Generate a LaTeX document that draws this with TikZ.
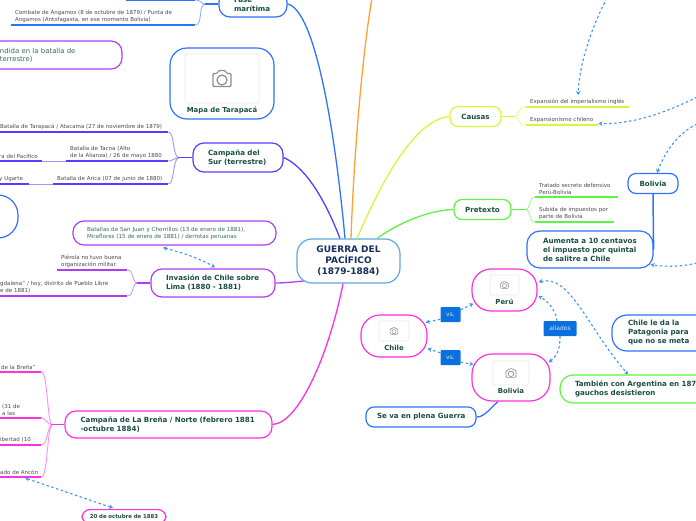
\documentclass[tikz,border=0pt]{standalone}
\usepackage{fontspec}
\setmainfont{DejaVu Sans}
\usepackage{tikz}
\usetikzlibrary{positioning}
\usetikzlibrary{arrows.meta,bending}

\definecolor{rootblue}{HTML}{5BA8DC}
\definecolor{rootink}{HTML}{14305C}
\definecolor{topicink}{HTML}{1A4F40}
\definecolor{leafink}{HTML}{4A4A4A}
\definecolor{orangeline}{HTML}{FFA030}
\definecolor{blueline}{HTML}{2F72FF}
\definecolor{indigoline}{HTML}{5A3CFF}
\definecolor{purpleline}{HTML}{B03CF5}
\definecolor{pinkline}{HTML}{FF30E0}
\definecolor{yellowline}{HTML}{D8F53C}
\definecolor{greenline}{HTML}{5CF53C}
\definecolor{linkblue}{HTML}{3D96F0}
\definecolor{tagblue}{HTML}{0A70E0}

\tikzset{
    topic/.style={rectangle, rounded corners=11pt, line width=1.2pt, fill=white, align=left,
        text=topicink, inner xsep=0pt, inner ysep=0pt, font=\fontsize{7.1}{9}\selectfont\bfseries},
    leaf/.style={rectangle, anchor=south west, align=left, inner xsep=4pt, inner ysep=2.5pt,
        text=leafink, font=\fontsize{5.5}{7}\selectfont},
    photo/.style={rectangle, rounded corners=2pt, draw=black!8, line width=0.8pt, fill=white},
    caption/.style={inner sep=0pt, text=topicink, font=\fontsize{6.9}{8}\selectfont\bfseries},
    tag/.style={rectangle, rounded corners=1pt, fill=tagblue, text=white!85!tagblue, inner sep=0pt,
        font=\fontsize{6}{7}\selectfont},
    branch/.style={line width=1.3pt},
    twig/.style={line width=0.9pt, opacity=0.55},
    under/.style={line width=1.6pt},
    linkline/.style={draw=linkblue, line width=1.1pt, dash pattern=on 2.5pt off 2.5pt},
    linkhead/.style={linkline, -{Stealth[length=4pt,width=4.5pt]}},
    linkboth/.style={linkline, {Stealth[length=4pt,width=4.5pt]}-{Stealth[length=4pt,width=4.5pt]}},
}

\newcommand{\camicon}[2]{%
    \begin{scope}[shift={(#1)},scale=#2]
        \draw[black!45, line width=#2*1.2pt, rounded corners=1pt, fill=white]
            (-9,-5) -- (-5,-5) -- (-3,-8) -- (3,-8) -- (5,-5) -- (9,-5) -- (9,8) -- (-9,8) -- cycle;
        \draw[black!45, line width=#2*1.2pt] (0,1.5) circle (5pt);
    \end{scope}}

\begin{document}
\begin{tikzpicture}[x=1pt,y=-1pt]
    \useasboundingbox (0,0) rectangle (696,520);
    \clip (0,0) rectangle (696,520);

    % main branches go under the boxes
    \coordinate (orangeend) at (372,-2);
    \node[topic, draw=rootblue, rounded corners=15pt, minimum width=103pt, minimum height=44pt,
        text width=103pt, align=center, text=rootink, font=\fontsize{9}{11}\selectfont\bfseries]
        (root) at (348.5,261) {GUERRA DEL\\PACÍFICO\\(1879-1884)};
    \draw[branch, orangeline] (root.north) ++(2.5,0) .. controls (354,150) and (363,50) .. (orangeend);

    % left side
    \node[topic, draw=blueline, minimum width=68pt, minimum height=26pt, text width=38pt]
        (fase) at (253,4) {Fase\\marítima};
    \node[topic, draw=indigoline, minimum width=90pt, minimum height=29pt, text width=60pt]
        (sur) at (238,157.5) {Campaña del\\Sur (terrestre)};
    \node[topic, draw=purpleline, minimum width=124pt, minimum height=28pt, text width=94pt]
        (lima) at (213,283) {Invasión de Chile sobre\\Lima (1880 - 1881)};
    \node[topic, draw=pinkline, minimum width=207pt, minimum height=27pt, text width=176pt]
        (brena) at (168.5,424.5) {Campaña de La Breña / Norte (febrero 1881\\-octubre 1884)};
    \node[topic, draw=purpleline, minimum width=203pt, minimum height=24pt, text width=175pt,
        font=\fontsize{5.6}{7}\selectfont, text=topicink!85!white]
        (batallas) at (174.5,233) {Batallas de San Juan y Chorrillos (13 de enero de 1881),\\Miraflores (15 de enero de 1881) / derrotas peruanas};
    \node[topic, draw=purpleline, minimum width=172pt, minimum height=28pt, text width=172pt,
        font=\fontsize{6.9}{8}\selectfont\mdseries, text=topicink!85!white]
        (rendida) at (36,55) {\hspace{50pt}ndida en la batalla de\\\hspace{50pt}terrestre)};
    \node[topic, draw=blueline, rounded corners=20pt, minimum width=78pt, minimum height=43pt] (offleft) at (-21,216.5) {};
    \node[topic, draw=pinkline, rounded corners=8pt, minimum width=84pt, anchor=north, inner ysep=5pt,
        font=\fontsize{5.4}{6}\selectfont\bfseries, text width=84pt, align=center]
        (octubre) at (124,509) {20 de octubre de 1883};

    % picture of the map
    \node[topic, draw=blueline, rounded corners=17pt, minimum width=104pt, minimum height=71pt]
        (mapa) at (222,83.5) {};
    \node[photo, minimum width=74pt, minimum height=49pt] (mapaphoto) at (222,78.5) {};
    \node[caption] (mapatext) at (222,110) {Mapa de Tarapacá};
    \camicon{mapaphoto}{1}

    \draw[branch, blueline] (root.north) ++(-3.5,0) .. controls (335,130) and (315,10) .. (fase.east);
    \draw[branch, indigoline] (root.north) ++(-8.5,0) .. controls (332,218) and (312,170) .. (sur.east);
    \draw[branch, purpleline] (root.south west) ++(7,-2.5) .. controls (292,282) and (285,283) .. (lima.east);
    \draw[branch, pinkline] (root.south) ++(-5.5,0) .. controls (330,350) and (300,423) .. (brena.east);

    % leaves of the left side
    \node[leaf, text width=176pt] (angamos) at (11,25) {Combate de Angamos (8 de octubre de 1879) / Punta de\\Angamos (Antofagasta, en ese momento Bolivia)};
    \node[leaf, text width=61pt] (fasetop) at (126,0) {};
    \node[leaf, text width=164pt] (tarapaca) at (-4,132) {Batalla de Tarapacá / Atacama (27 de noviembre de 1879)};
    \node[leaf, text width=94pt] (tacna) at (66,161) {Batalla de Tacna (Alto\\de la Alianza) / 26 de mayo 1880};
    \node[leaf, text width=39pt] (pacifico) at (-5,161) {ra del Pacífico};
    \node[leaf, text width=107pt] (arica) at (53,184) {Batalla de Arica (07 de junio de 1880)};
    \node[leaf, text width=26pt] (ugarte) at (-5,184) {y Ugarte};
    \node[leaf, text width=62pt] (pierola) at (57,270) {Piérola no tuvo buena\\organización militar.};
    \node[leaf, text width=123pt] (magdalena) at (-4,296) {gdalena" / hoy, distrito de Pueblo Libre\\e de 1881)};
    \node[leaf, text width=36pt] (lucha) at (-3,372) {de la Breña"};
    \node[leaf, text width=35pt] (treinta) at (-2,418) {(31 de\\a las};
    \node[leaf, text width=37pt] (libertad) at (-4,445) {ibertad (10};
    \node[leaf, text width=37pt] (ancon) at (-4,477) {\mbox{ado de Ancón}};

    \foreach \leafname/\leafcolor in {angamos/blueline, fasetop/blueline, tarapaca/indigoline, tacna/indigoline,
        pacifico/indigoline, arica/indigoline, ugarte/indigoline, pierola/purpleline, magdalena/purpleline,
        lucha/pinkline, treinta/pinkline, libertad/pinkline, ancon/pinkline}
        \draw[under, \leafcolor] (\leafname.south west) -- (\leafname.south east);

    \draw[twig, indigoline] (pacifico.south east) -- (tacna.south west);
    \draw[twig, indigoline] (ugarte.south east) -- (arica.south west);

    \draw[branch, blueline] (fase.west) -- ++(-13,0) coordinate (fasestem);
    \draw[twig, blueline] (fasestem) .. controls (198,4) and (203,25) .. (angamos.south east);
    \draw[twig, blueline] (fasestem) .. controls (200,4) and (202,0) .. (fasetop.south east);
    \draw[branch, indigoline] (sur.west) -- ++(-13,0) coordinate (surstem);
    \draw[twig, indigoline] (surstem) .. controls (172,158) and (175,132) .. (tarapaca.south east);
    \draw[twig, indigoline] (surstem) .. controls (175,158) and (172,161) .. (tacna.south east);
    \draw[twig, indigoline] (surstem) .. controls (172,158) and (175,184) .. (arica.south east);
    \draw[branch, purpleline] (lima.west) -- ++(-13,0) coordinate (limastem);
    \draw[twig, purpleline] (limastem) .. controls (132,283) and (134,270) .. (pierola.south east);
    \draw[twig, purpleline] (limastem) .. controls (132,283) and (134,296) .. (magdalena.south east);
    \draw[branch, pinkline] (brena.west) -- ++(-12,0) coordinate (brenastem);
    \draw[twig, pinkline] (brenastem) .. controls (47,425) and (48,372) .. (lucha.south east);
    \draw[twig, pinkline] (brenastem) .. controls (47,425) and (46,418) .. (treinta.south east);
    \draw[twig, pinkline] (brenastem) .. controls (47,425) and (48,445) .. (libertad.south east);
    \draw[twig, pinkline] (brenastem) .. controls (47,425) and (48,477) .. (ancon.south east);

    \draw[linkboth] ([xshift=-11.5pt,yshift=-2pt]batallas.south) .. controls (180,252) and (200,258) .. ([xshift=2pt,yshift=1pt]lima.north);
    \draw[linkboth] ([xshift=6.5pt,yshift=-1pt]ancon.south) -- ([xshift=-11pt,yshift=1pt]octubre.north);

    % right side
    \node[topic, draw=yellowline, rounded corners=8pt, minimum width=51pt, minimum height=20pt, align=center]
        (causas) at (475.5,116.5) {Causas};
    \node[topic, draw=greenline, rounded corners=8pt, minimum width=57pt, minimum height=20pt, align=center]
        (pretexto) at (482.5,209.5) {Pretexto};
    \node[topic, draw=blueline, rounded corners=8pt, minimum width=50pt, minimum height=20pt, align=center]
        (boliviatop) at (653,183.5) {Bolivia};
    \node[topic, draw=blueline, rounded corners=13pt, minimum width=126pt, minimum height=37pt, text width=94pt]
        (aumenta) at (590,249.5) {Aumenta a 10 centavos\\el impuesto por quintal\\de salitre a Chile};
    \draw[branch, blueline, line width=1.5pt] (boliviatop.south) -- (aumenta.east);

    \draw[branch, yellowline] (root.north) ++(8.5,0) .. controls (378,190) and (412,120) .. (causas.west);
    \draw[branch, greenline] (root.north) ++(28.5,0) .. controls (400,222) and (430,210) .. (pretexto.west);

    \node[leaf, text width=95pt] (ingles) at (526,107) {Expansión del imperialismo inglés};
    \node[leaf, text width=64pt] (chileno) at (526,125) {Expansionismo chileno};
    \node[leaf, text width=75pt] (tratado) at (535,197) {Tratado secreto defensivo\\Perú-Bolivia};
    \node[leaf, text width=71pt] (subida) at (535,222) {Subida de impuestos por\\parte de Bolivia};
    \foreach \leafname/\leafcolor in {ingles/yellowline, chileno/yellowline, tratado/greenline, subida/greenline}
        \draw[under, \leafcolor] (\leafname.south west) -- (\leafname.south east);
    \draw[branch, yellowline] (causas.east) -- ++(12,0) coordinate (causasstem);
    \draw[twig, yellowline] (causasstem) .. controls (520,116.5) and (517,107) .. (ingles.south west);
    \draw[twig, yellowline] (causasstem) .. controls (520,116.5) and (517,125) .. (chileno.south west);
    \draw[branch, greenline] (pretexto.east) -- ++(13,0) coordinate (pretextostem);
    \draw[twig, greenline] (pretextostem) .. controls (532,209.5) and (528,197) .. (tratado.south west);
    \draw[twig, greenline] (pretextostem) .. controls (532,209.5) and (528,222) .. (subida.south west);

    \coordinate (linkone) at (607,-2);
    \coordinate (linktwo) at (697,97);
    \coordinate (linkthree) at (697,124);
    \coordinate (linkfour) at (697,263);
    \draw[linkhead] (linkone) .. controls (590,30) and (578,70) .. ([xshift=0.5pt,yshift=1pt]ingles.north);
    \draw[linkhead] (linktwo) .. controls (660,116) and (625,125) .. ([yshift=1.5pt]chileno.south east);
    \draw[linkhead] (linkthree) .. controls (680,132) and (665,150) .. ([xshift=4pt]boliviatop.north);
    \draw[linkhead] (linkfour) .. controls (680,267) and (665,267) .. ([xshift=-3pt,yshift=4pt]aumenta.south east);

    % countries
    \node[topic, draw=pinkline, rounded corners=19pt, minimum width=65pt, minimum height=42pt] (peru) at (504.5,290) {};
    \node[photo, minimum width=29pt, minimum height=20pt] (peruphoto) at (504.5,285) {};
    \node[caption] (perutext) at (504.5,302) {Perú};
    \camicon{peruphoto}{0.42}
    \node[topic, draw=pinkline, rounded corners=19pt, minimum width=66pt, minimum height=42pt] (chile) at (394,336) {};
    \node[photo, minimum width=30pt, minimum height=20pt] (chilephoto) at (394,331) {};
    \node[caption] (chiletext) at (394,348) {Chile};
    \camicon{chilephoto}{0.42}
    \node[topic, draw=pinkline, rounded corners=20pt, minimum width=78pt, minimum height=47pt] (bolivia) at (511,377.5) {};
    \node[photo, minimum width=36pt, minimum height=24pt] (boliviaphoto) at (511,373) {};
    \node[caption] (boliviatext) at (511,391) {Bolivia};
    \camicon{boliviaphoto}{0.55}

    \node[topic, draw=blueline, rounded corners=8pt, minimum width=110pt, minimum height=20pt, text width=94pt]
        (seva) at (421,417) {\hspace{3pt}Se va en plena Guerra};
    \draw[branch, blueline] (seva.east) .. controls (485,417) and (490,408) .. ([xshift=-13pt]bolivia.south);
    \node[topic, draw=blueline, rounded corners=15pt, minimum width=110pt, minimum height=36pt, text width=78pt]
        (patagonia) at (667,333) {Chile le da la\\Patagonia para\\que no se meta};
    \node[topic, draw=greenline, rounded corners=13pt, minimum width=180pt, minimum height=28pt, text width=150pt]
        (argentina) at (650,389) {También con Argentina en 1878\\gauchos desistieron};

    \node[tag, minimum width=20pt, minimum height=15pt] (vsone) at (450.5,314.5) {vs.};
    \node[tag, minimum width=20pt, minimum height=15pt] (vstwo) at (450.5,357.5) {vs.};
    \node[tag, minimum width=33pt, minimum height=15pt] (aliados) at (560,328.5) {aliados};

    \draw[linkhead] ([yshift=3pt]vsone.south west) -- ([xshift=-2pt,yshift=-8pt]chile.north east);
    \draw[linkhead] ([yshift=-3pt]vsone.north east) -- ([xshift=2pt,yshift=8pt]peru.south west);
    \draw[linkhead] ([yshift=-3pt]vstwo.north west) -- ([yshift=9pt]chile.south east);
    \draw[linkhead] ([yshift=3pt]vstwo.south east) -- ([xshift=2pt,yshift=-11pt]bolivia.north west);
    \draw[linkhead] ([xshift=-3pt]aliados.north) .. controls (556,312) and (550,302) .. ([xshift=1pt,yshift=-6pt]peru.east);
    \draw[linkhead] (aliados.south) .. controls (560,348) and (558,356) .. ([xshift=-2pt,yshift=-9pt]bolivia.north east);
    \draw[linkboth] ([xshift=1pt,yshift=8pt]peru.east) .. controls (570,272) and (585,325) .. ([xshift=-22pt]argentina.north);
\end{tikzpicture}
\end{document}
